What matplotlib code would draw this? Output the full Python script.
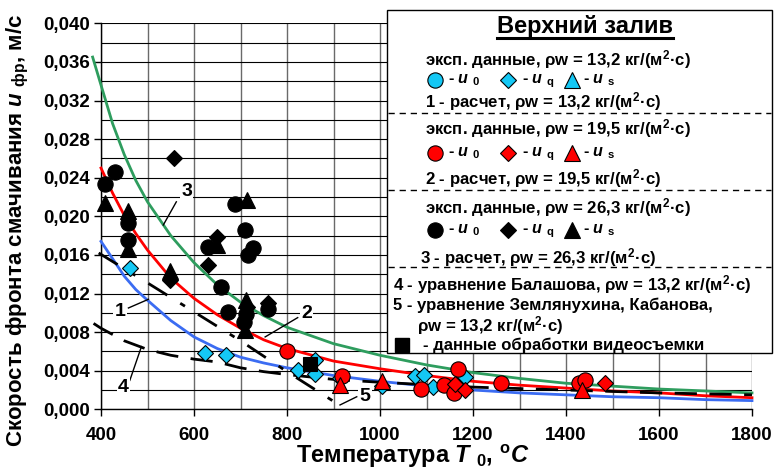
import numpy as np
import matplotlib
matplotlib.use('Agg')
import matplotlib.pyplot as plt
from matplotlib.lines import Line2D
from matplotlib.patches import Rectangle

plt.rcParams['font.family'] = ['Liberation Sans', 'DejaVu Sans']
plt.rcParams['font.weight'] = 'bold'
plt.rcParams['mathtext.fontset'] = 'custom'
plt.rcParams['mathtext.rm'] = 'Liberation Sans:bold'
plt.rcParams['mathtext.it'] = 'Liberation Sans:italic:bold'
plt.rcParams['mathtext.bf'] = 'Liberation Sans:bold'

# --- расчетные кривые 1-3 ---
T_calc = [400, 425, 450, 475, 500, 550, 600, 650, 700, 750, 800, 900, 1000,
          1100, 1200, 1300, 1400, 1500, 1600, 1700, 1800]
u_calc1 = [0.0174, 0.0156, 0.0138, 0.0124, 0.0113, 0.0092, 0.0075, 0.0063,
           0.0054, 0.0048, 0.0043, 0.0035, 0.0029, 0.0024, 0.0020, 0.0017,
           0.0015, 0.0013, 0.0012, 0.0010, 0.0009]
u_calc2 = [0.0250, 0.0224, 0.0201, 0.0182, 0.0165, 0.0136, 0.0115, 0.0098,
           0.0084, 0.0072, 0.0063, 0.0050, 0.0042, 0.0035, 0.0029, 0.0025,
           0.0022, 0.0019, 0.0017, 0.0014, 0.0012]
T_calc3 = [382] + T_calc
u_calc3 = [0.0365, 0.0336, 0.0296, 0.0264, 0.0237, 0.0215, 0.0180, 0.0152,
           0.0129, 0.0111, 0.0097, 0.0085, 0.0068, 0.0056, 0.0046, 0.0038,
           0.0032, 0.0027, 0.0024, 0.0021, 0.0019, 0.0017]

# 4 - уравнение Балашова
T_bal = [384, 400, 450, 500, 550, 600, 650, 700, 750, 800, 900, 1000, 1200,
         1400, 1600, 1800]
u_bal = [0.0089, 0.0084, 0.0071, 0.0062, 0.0056, 0.0052, 0.0049, 0.0043,
         0.0039, 0.0036, 0.0031, 0.0028, 0.0023, 0.0020, 0.0017, 0.0015]

# 5 - уравнение Землянухина, Кабанова
T_zk = [395, 500, 600, 700, 800, 914]
u_zk = [0.0162, 0.0131, 0.0101, 0.0071, 0.0039, 0.0004]

# --- эксперимент, rho*w = 13,2 ---
T_q1 = [462, 624, 668, 824, 860, 860, 914, 1005, 1075, 1095, 1114, 1183]
u_q1 = [0.0146, 0.0058, 0.0056, 0.0041, 0.0051, 0.0037, 0.0032, 0.0024,
        0.0035, 0.0036, 0.0023, 0.0033]

# --- эксперимент, rho*w = 19,5 ---
T_02 = [799, 918, 1089, 1138, 1160, 1167, 1260, 1427, 1441]
u_02 = [0.0060, 0.0034, 0.0021, 0.0025, 0.0017, 0.0042, 0.0027, 0.0027, 0.0030]
T_q2 = [1161, 1183, 1484]
u_q2 = [0.0026, 0.0020, 0.0027]
T_s2 = [914, 1005, 1434]
u_s2 = [0.0025, 0.0029, 0.0020]

# --- эксперимент, rho*w = 26,3 ---
T_03 = [409, 430, 459, 459, 631, 659, 674, 688, 710, 716, 727, 711, 707, 760]
u_03 = [0.0233, 0.0246, 0.0193, 0.0175, 0.0168, 0.0127, 0.0101, 0.0213,
        0.0186, 0.0160, 0.0167, 0.0099, 0.0090, 0.0104]
T_q3 = [558, 548, 631, 649, 714, 760]
u_q3 = [0.0260, 0.0134, 0.0150, 0.0179, 0.0106, 0.0110]
T_s3 = [409, 459, 459, 548, 649, 713, 712, 710]
u_s3 = [0.0214, 0.0206, 0.0166, 0.0143, 0.0170, 0.0217, 0.0113, 0.0082]

# видеосъемка
T_video = [849]
u_video = [0.0047]

C_CYAN = '#14c8f5'
C_RED = '#ff0000'
C_BLUE = '#3b6cf2'
C_GREEN = '#2e9d5e'

W, H = 774, 472
fig = plt.figure(figsize=(W / 100, H / 100), dpi=100)
ax = fig.add_axes([101 / W, 1 - 409.3 / H, 651 / W, 386 / H])


def fpx(x, y):
    return x / W, 1 - y / H


ax.set_xlim(400, 1800)
ax.set_ylim(0, 0.040)
ax.set_xticks(np.arange(400, 1801, 200))
ax.set_xticks(np.arange(400, 1801, 100), minor=True)
ax.set_yticks(np.arange(0, 0.0401, 0.004))
ax.set_yticks(np.arange(0, 0.0401, 0.002), minor=True)
ax.set_yticklabels([('%.3f' % v).replace('.', ',') for v in np.arange(0, 0.0401, 0.004)])
ax.tick_params(which='major', direction='out', length=5, width=1, labelsize=13.5, pad=3)
ax.tick_params(axis='x', which='major', pad=8)
ax.tick_params(which='minor', length=0)
ax.grid(axis='x', which='both', color='#6a6a6a', lw=1.0, zorder=0)
ax.grid(axis='y', which='both', color='k', lw=0.8, zorder=0)
ax.set_axisbelow(True)
for s in ['top', 'right']:
    ax.spines[s].set_visible(False)
for s in ['left', 'bottom']:
    ax.spines[s].set_linewidth(1.0)
for lab in ax.get_xticklabels() + ax.get_yticklabels():
    lab.set_fontweight('bold')

ax.set_xlabel('Температура $T$ $_\\mathrm{0}$, $^\\mathrm{o}$$C$', fontsize=17, fontweight='bold')
ax.set_ylabel('Скорость фронта смачивания $u$ $_\\mathrm{фр}$, м/с', fontsize=16,
              fontweight='bold')
ax.xaxis.set_label_coords(0.479, -0.088)
ax.yaxis.set_label_coords(-0.107, 0.4645)

# кривые
ax.plot(T_calc, u_calc1, color=C_BLUE, lw=2.0, zorder=3, clip_on=False)
ax.plot(T_calc, u_calc2, color=C_RED, lw=2.0, zorder=3, clip_on=False)
ax.plot(T_calc3, u_calc3, color=C_GREEN, lw=2.0, zorder=3, clip_on=False)
ax.plot(T_bal, u_bal, color='k', lw=2.0, ls=(0, (8, 4.5)), zorder=3, clip_on=False)
ax.plot(T_zk, u_zk, color='k', lw=2.0, ls=(0, (8, 5.5, 2, 5.5)), zorder=3, clip_on=False)

mk = dict(ls='none', markeredgecolor='k', markeredgewidth=0.8, zorder=4, clip_on=False)
ax.plot(T_q1, u_q1, marker='D', ms=8, color=C_CYAN, **mk)
ax.plot(T_02, u_02, marker='o', ms=11, color=C_RED, **mk)
ax.plot(T_q2, u_q2, marker='D', ms=8, color=C_RED, **mk)
ax.plot(T_s2, u_s2, marker='^', ms=11, color=C_RED, **mk)
ax.plot(T_03, u_03, marker='o', ms=11, color='k', **mk)
ax.plot(T_q3, u_q3, marker='D', ms=8, color='k', **mk)
ax.plot(T_s3, u_s3, marker='^', ms=11, color='k', **mk)
ax.plot(T_video, u_video, marker='s', ms=10, color='k', **mk)

# номера кривых с выносками
lbl_box = dict(facecolor='white', edgecolor='none', pad=1.0)
for txt, tx, ty, x0, y0, x1, y1 in [('3', 584, 0.02255, 562, 0.0215, 534, 0.0191),
                                     ('1', 441, 0.0101, 459, 0.0105, 502, 0.0114),
                                     ('4', 448, 0.0023, 462, 0.0030, 487, 0.0065),
                                     ('2', 842, 0.0099, 823, 0.0095, 753, 0.0075),
                                     ('5', 968, 0.0013, 950, 0.0013, 914, 0.00045)]:
    ax.plot([x0, x1], [y0, y1], color='k', lw=1.0, zorder=5, clip_on=False)
    ax.text(tx, ty, txt, fontsize=14, fontweight='bold', ha='center', va='center',
            bbox=lbl_box, zorder=5)

# легенда
fig.patches.append(Rectangle(fpx(387, 353), 385 / W, 343 / H, transform=fig.transFigure,
                             facecolor='white', edgecolor='k', lw=1.0, zorder=10))
title = fig.text(*fpx(585, 33), 'Верхний залив', fontsize=17, fontweight='bold',
                 ha='center', va='baseline', zorder=11)
fig.canvas.draw()
bb = title.get_window_extent()
fig.add_artist(Line2D([bb.x0 / W, bb.x1 / W], [1 - 37.5 / H, 1 - 37.5 / H],
                      transform=fig.transFigure, color='k', lw=2.2, zorder=11))

for yy in [113, 190, 267]:
    fig.add_artist(Line2D([388 / W, 771 / W], [1 - yy / H, 1 - yy / H], transform=fig.transFigure,
                          color='k', lw=1.0, ls=(0, (4.5, 3.5)), zorder=11))

fs = 12.1
groups = [('13,2', C_CYAN, 65, 80, 107, '1'),
          ('19,5', C_RED, 134, 153, 184, '2'),
          ('26,3', 'k', 213, 230, 263, '3')]
for rw, col, y_head, y_mk, y_calc, num in groups:
    fig.text(*fpx(425, y_head), 'эксп. данные, ρw = %s кг/(м$^\\mathrm{2}$·с)' % rw,
             fontsize=fs, ha='left', va='baseline', zorder=11)
    for mx, marker, ms, tx, sub in [(435, 'o', 11, 448, '0'), (508, 'D', 8, 522, 'q'),
                                    (572, '^', 11, 583, 's')]:
        fig.add_artist(Line2D([mx / W], [1 - y_mk / H], transform=fig.transFigure, marker=marker,
                              ms=ms, color=col, markeredgecolor='k', markeredgewidth=0.8,
                              ls='none', zorder=11))
        fig.text(*fpx(tx, y_mk + 3), '- $u$ $_\\mathrm{%s}$' % sub, fontsize=fs - 0.5,
                 ha='left', va='baseline', zorder=11)
    xc = 420 if num == '3' else 425
    fig.text(*fpx(xc, y_calc), '%s - расчет, ρw = %s кг/(м$^\\mathrm{2}$·с)' % (num, rw),
             fontsize=fs, ha='left', va='baseline', zorder=11)

fig.text(*fpx(393, 290), '4 - уравнение Балашова, ρw = 13,2 кг/(м$^\\mathrm{2}$·с)',
         fontsize=fs, ha='left', va='baseline', zorder=11)
fig.text(*fpx(393, 310), '5 - уравнение Землянухина, Кабанова,',
         fontsize=fs, ha='left', va='baseline', zorder=11)
fig.text(*fpx(417, 331), 'ρw = 13,2 кг/(м$^\\mathrm{2}$·с)',
         fontsize=fs, ha='left', va='baseline', zorder=11)
fig.add_artist(Line2D([402 / W], [1 - 345 / H], transform=fig.transFigure, marker='s', ms=10,
                      color='k', ls='none', zorder=11))
fig.text(*fpx(423, 350), '- данные обработки видеосъемки',
         fontsize=fs, ha='left', va='baseline', zorder=11)

fig.savefig('out.png', dpi=100)
